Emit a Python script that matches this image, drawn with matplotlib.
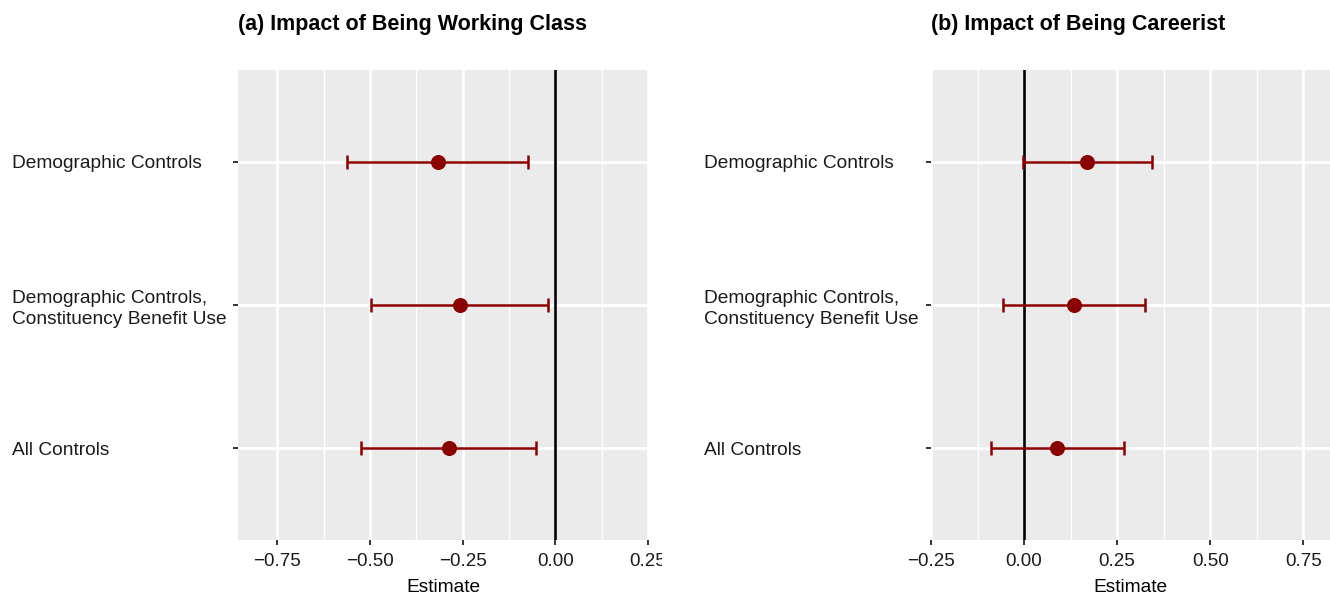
import matplotlib
matplotlib.use("Agg")
import matplotlib.pyplot as plt
from matplotlib.transforms import Bbox, TransformedBbox
import numpy as np

plt.rcParams['font.family'] = ['Liberation Sans', 'DejaVu Sans']

categories = ["Demographic Controls",
              "Demographic Controls,\nConstituency Benefit Use",
              "All Controls"]

wc_est = [-0.317, -0.258, -0.288]
wc_low = [-0.562, -0.496, -0.525]
wc_high = [-0.075, -0.019, -0.051]

car_est = [0.170, 0.134, 0.089]
car_low = [-0.002, -0.057, -0.090]
car_high = [0.344, 0.324, 0.268]

titles = ["(a) Impact of Being Working Class", "(b) Impact of Being Careerist"]
xlims = [(-0.856, 0.25), (-0.25, 0.822)]
xticks = [[-0.75, -0.50, -0.25, 0.00, 0.25], [-0.25, 0.00, 0.25, 0.50, 0.75]]

W, H = 1330, 595
fig = plt.figure(figsize=(W / 100, H / 100), dpi=100)

panels = [(238, 648), (931, 1330)]
label_x = [12, 704]
top, bottom = 70, 540

series = [(wc_est, wc_low, wc_high), (car_est, car_low, car_high)]

for i in range(2):
    l, r = panels[i]
    ax = fig.add_axes([l / W, (H - bottom) / H, (r - l) / W, (bottom - top) / H])
    ax.set_facecolor('#EBEBEB')
    for s in ax.spines.values():
        s.set_visible(False)
    est, low, high = series[i]
    y = np.arange(len(categories))[::-1] + 1  # top is first category
    ax.set_xlim(*xlims[i])
    ax.set_ylim(0.357, 3.643)
    # grid
    ticks = xticks[i]
    minors = [(a + b) / 2 for a, b in zip(ticks[:-1], ticks[1:])]
    ext = ticks[0] - 0.125
    if ext > xlims[i][0]:
        minors = [ext] + minors
    ext2 = ticks[-1] + 0.125
    if ext2 < xlims[i][1]:
        minors = minors + [ext2]
    for m in minors:
        ax.axvline(m, color='white', lw=1.0, zorder=0.5)
    for t in ticks:
        ax.axvline(t, color='white', lw=2.0, zorder=0.6)
    for yy in y:
        ax.axhline(yy, color='white', lw=2.0, zorder=0.6)
    ax.axvline(0, color='black', lw=1.9, zorder=1)
    ax.errorbar(est, y, xerr=[np.array(est) - np.array(low), np.array(high) - np.array(est)],
                fmt='o', color='#8B0000', ecolor='#8B0000', elinewidth=1.8,
                capsize=5, capthick=1.8, markersize=9.8, zorder=3)
    ax.set_xticks(ticks)
    ax.set_xticklabels([f"{t:.2f}".replace('-', '\u2212') for t in ticks])
    ax.set_yticks(y)
    ax.set_yticklabels(categories)
    pad_pts = (l - label_x[i]) * 0.72
    ax.tick_params(axis='y', length=3.6, width=1.4, color='#333333', pad=pad_pts - 3.6,
                   labelsize=13.8, labelcolor='#1a1a1a')
    ax.tick_params(axis='x', length=3.6, width=1.4, color='#333333', pad=5.5,
                   labelsize=13.5, labelcolor='#1a1a1a')
    for lbl in ax.get_yticklabels():
        lbl.set_ha('left')
        lbl.set_multialignment('left')
        lbl.set_linespacing(1.3)
    ax.set_xlabel("Estimate", fontsize=13.8, labelpad=6.5, color='black')
    ax.set_title(titles[i], loc='left', fontsize=15.5, fontweight='bold', pad=29)
    if i == 0:
        clipbox = TransformedBbox(Bbox([[0, 0], [662 / W, 1]]), fig.transFigure)
        for lbl in ax.get_xticklabels():
            lbl.set_clip_box(clipbox)
            lbl.set_clip_on(True)

fig.savefig("out.png", dpi=100)
